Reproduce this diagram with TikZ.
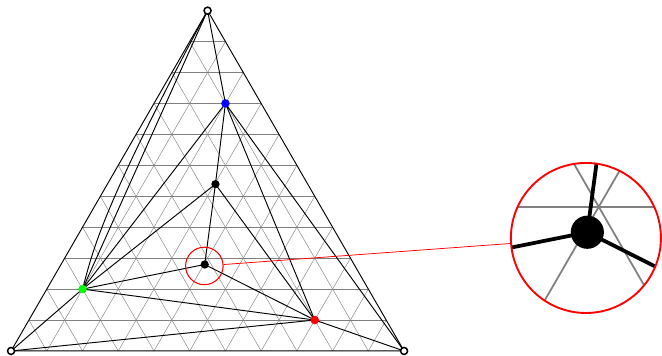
\documentclass[tikz,border=0pt]{standalone}
\usetikzlibrary{spy}
\tikzset{
  lattice/.style={gray, line width=0.35pt},
  link/.style={black, line width=0.75pt},
  corner/.style={draw=black, fill=white, line width=1.2pt},
  magring/.style={circle, inner sep=0pt},
}

\begin{document}
\begin{tikzpicture}
  \useasboundingbox (-0.31,-0.14) rectangle (18.22,9.824);
  \def\h{0.8660254}
  \coordinate (A) at (0,0);
  \coordinate (B) at (11,0);
  \coordinate (C) at (5.5,{11*\h});
  \coordinate (P) at (6,{8*\h});
  \coordinate (Q) at (2,{2*\h});
  \coordinate (R) at (8.5,\h);
  \coordinate (S1) at (5.72,4.67);
  \coordinate (S2) at (5.42,2.42);
  \begin{scope}[spy using outlines={circle, red, magnification=4, size=4.2cm}]
    % Gitter
    \foreach \i in {1,...,10} {
      \draw[lattice] (\i/2,\i*\h) -- (11-\i/2,\i*\h);
      \draw[lattice] (\i,0) -- ({\i+(11-\i)/2},{(11-\i)*\h});
      \draw[lattice] (\i,0) -- (\i/2,\i*\h);
    }
    % Kanten
    \draw[link] (A) -- (B) -- (C) -- cycle;
    \draw[link] (C) -- (P) (C) -- (Q) (P) -- (Q) (P) -- (S1) (P) -- (R) (P) -- (B);
    \draw[link] (C) .. controls +(-3.0,-5.6) and +(0.3,1.1) .. (Q);
    \draw[link] (S1) -- (Q) (S1) -- (R) (S1) -- (S2) (S2) -- (Q) (S2) -- (R);
    \draw[link] (Q) -- (R) (Q) -- (A) (R) -- (A) (R) -- (B);
    \fill[blue] (P) circle (3.4pt);
    \fill[green] (Q) circle (3.4pt);
    \fill[red] (R) circle (3.4pt);
    \foreach \p in {S1,S2} \fill (\p) circle (3.3pt);
    \foreach \p in {A,B,C} \draw[corner] (\p) circle (2.8pt);
    \spy on (5.41,2.38) in node[line width=1.5pt] at (16.09,3.163);
  \end{scope}
  % Lupe
  \node[magring, draw=red, line width=0.8pt, minimum size=1.05cm] (small) at (5.41,2.38) {};
  \node[magring, minimum size=4.2cm] (big) at (16.09,3.163) {};
  \draw[red, line width=0.6pt] (small) -- (big);
\end{tikzpicture}
\end{document}
